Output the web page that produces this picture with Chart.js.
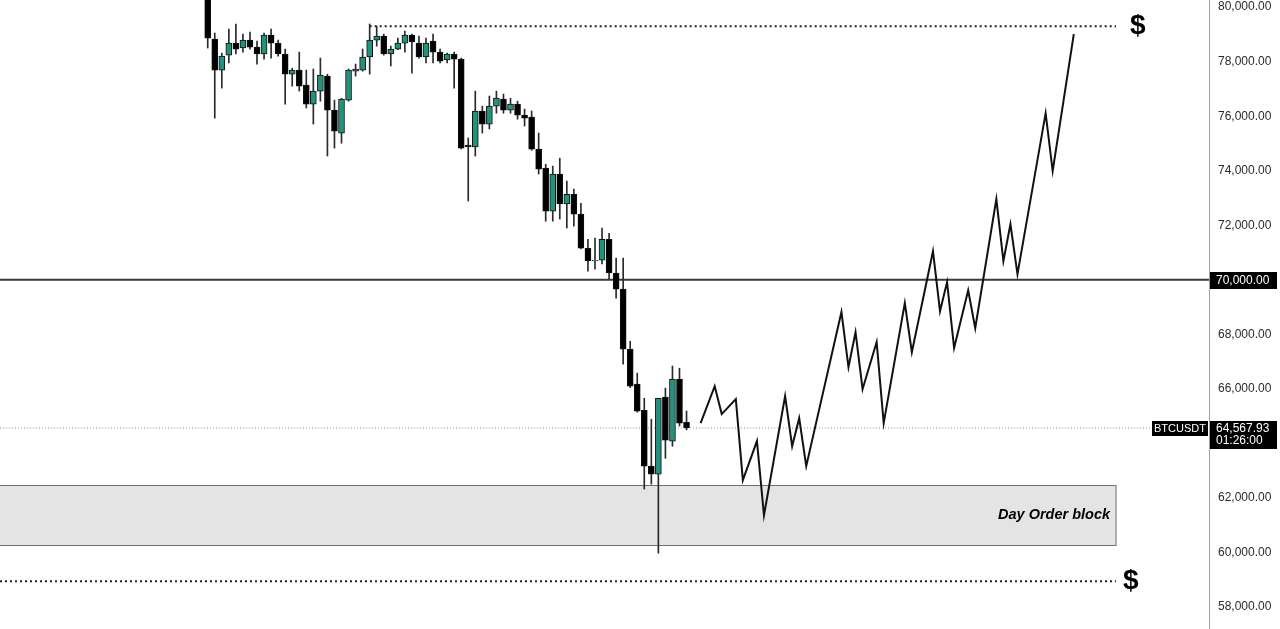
<!DOCTYPE html>
<html>
<head>
<meta charset="utf-8">
<script src="https://cdn.jsdelivr.net/npm/chart.js@4/dist/chart.umd.min.js"></script>
<style>
    html, body { margin: 0; padding: 0; background: #fff; }
    #wrap { width: 1280px; height: 629px; position: relative; }
</style>
</head>
<body>
<div id="wrap"><canvas id="btcChart"></canvas></div>
<script>
// daily candles, BTCUSDT
const opens  = [80800, 78830, 77690, 78240, 78680, 78500, 78790, 78530, 78280, 78970, 78680, 78280, 77540, 77690, 77140, 76440, 76920, 77470, 76220, 75380, 76590, 77650, 77690, 78170, 78790, 78940, 78280, 78460, 78680, 78970, 78680, 78170, 78750, 78350, 78060, 78280, 78090, 74940, 74870, 76190, 75710, 76370, 76630, 76220, 76440, 76040, 75970, 74790, 74100, 72520, 73880, 72780, 73140, 72410, 71160, 70690, 70720, 71490, 70250, 69660, 67460, 66180, 65220, 63170, 62880, 65700, 64090, 66360, 64780];
const highs  = [81000, 79050, 78310, 79190, 79380, 79010, 79080, 78750, 79050, 79190, 78790, 78460, 77760, 78350, 77690, 77730, 78130, 77540, 76590, 76660, 77730, 77910, 78460, 79380, 79300, 79010, 78570, 78860, 79120, 79010, 78940, 78860, 79010, 78460, 78310, 78350, 78130, 75200, 76920, 76370, 76740, 76920, 76810, 76660, 76550, 76260, 76190, 75380, 74240, 74170, 74460, 73620, 73330, 72810, 71490, 71530, 71900, 71710, 70800, 70800, 67750, 66580, 65660, 64890, 65660, 66030, 66840, 66760, 65190];
const lows   = [78500, 75930, 77030, 77950, 78280, 78350, 78460, 77910, 78090, 78130, 78200, 76440, 77100, 76920, 76300, 75710, 76550, 74540, 74830, 75010, 76550, 77470, 77650, 77540, 78570, 78240, 77840, 78440, 78350, 77580, 78130, 77950, 77950, 77950, 77950, 77030, 74800, 72890, 74540, 75380, 75530, 76110, 76110, 76110, 75890, 75640, 74750, 73880, 72150, 72150, 72230, 71900, 71970, 71130, 70320, 70390, 70580, 70030, 69330, 66910, 66050, 65150, 62330, 62510, 59980, 63460, 63900, 64640, 64500];
const closes = [78860, 77690, 78200, 78680, 78460, 78790, 78530, 78280, 78970, 78680, 78280, 77540, 77690, 77100, 76440, 76920, 77510, 76220, 75450, 76630, 77690, 77730, 78170, 78790, 78940, 78280, 78460, 78680, 78970, 78720, 78170, 78680, 78350, 78020, 78280, 78090, 74830, 74870, 76190, 75710, 76370, 76660, 76220, 76440, 76040, 75930, 74790, 74060, 72520, 73880, 72780, 73140, 72410, 71160, 70690, 70720, 71490, 70250, 69660, 67460, 66100, 65190, 63170, 62880, 65660, 64120, 66360, 64750, 64567.93];

// projected path (candle index, price)
const projX = [70, 72, 73, 75, 76, 78, 79, 82, 83, 84, 85, 90, 91, 92, 93, 95, 96, 99, 100, 103, 104, 105, 106, 108, 109, 112, 113, 114, 115, 119, 120, 123];
const projY = [64750, 66100, 65080, 65630, 62660, 64090, 61370, 65740, 63900, 64930, 63170, 68820, 66800, 68080, 65990, 67720, 64750, 69150, 67350, 71050, 68850, 69920, 67500, 69620, 68230, 72960, 70690, 72040, 70210, 76110, 73990, 79010];

const yTicks = [58000, 60000, 62000, 64000, 66000, 68000, 70000, 72000, 74000, 76000, 78000, 80000];

const keyLevel = 70000;
const lastPrice = 64567.93;
const countdown = '01:26:00';
const symbol = 'BTCUSDT';
const topLiquidity = 79300;
const bottomLiquidity = 58950;
const orderBlock = [60270, 62470];
const orderBlockLabel = 'Day Order block';

const xMin = -29.5, xMax = 142.2;
const topLiqStart = 23, zoneEnd = 129, priceLineEnd = 133.8;

const GREEN = '#23917c';
const fmt = (v) => v.toLocaleString('en-US', { minimumFractionDigits: 2, maximumFractionDigits: 2 });

const bodies = opens.map((o, i) => ({ x: i, y: [o, closes[i]] }));
const wicks = opens.map((o, i) => ({ x: i, y: [lows[i], highs[i]] }));
const bodyColors = opens.map((o, i) => closes[i] > o ? GREEN : '#000');
const projection = projX.map((x, i) => ({ x, y: projY[i] }));

const levelLine = (y, x0, x1) => [{ x: x0, y }, { x: x1, y }];

const overlay = {
    id: 'overlay',
    beforeDatasetsDraw(chart) {
        const { ctx, scales: { x, y } } = chart;
        const left = x.getPixelForValue(xMin);
        const right = x.getPixelForValue(zoneEnd);
        const top = y.getPixelForValue(orderBlock[1]);
        const bottom = y.getPixelForValue(orderBlock[0]);
        ctx.save();
        ctx.fillStyle = '#e4e4e4';
        ctx.fillRect(left, top, right - left, bottom - top);
        ctx.strokeStyle = '#707070';
        ctx.lineWidth = 1;
        ctx.strokeRect(left - 1, Math.round(top) + 0.5, right - left + 1, Math.round(bottom - top));
        ctx.restore();
    },
    afterDatasetsDraw(chart) {
        const { ctx, scales: { x, y } } = chart;
        ctx.save();
        ctx.fillStyle = '#000';
        ctx.font = 'italic bold 14.5px "Liberation Sans", Arial, sans-serif';
        ctx.textAlign = 'right';
        ctx.textBaseline = 'middle';
        ctx.fillText(orderBlockLabel, x.getPixelForValue(zoneEnd) - 6, y.getPixelForValue((orderBlock[0] + orderBlock[1]) / 2));

        ctx.font = 'bold 28px "Liberation Sans", Arial, sans-serif';
        ctx.textAlign = 'center';
        ctx.fillText('$', x.getPixelForValue(132.1), y.getPixelForValue(topLiquidity));
        ctx.fillText('$', x.getPixelForValue(131.1), y.getPixelForValue(bottomLiquidity));
        ctx.restore();
    },
    afterDraw(chart) {
        const { ctx, scales: { y } } = chart;
        const axisLeft = y.left;
        ctx.save();
        ctx.font = '12px "Liberation Sans", Arial, sans-serif';
        ctx.textBaseline = 'middle';

        // key level tag
        const ky = Math.round(y.getPixelForValue(keyLevel));
        ctx.fillStyle = '#000';
        ctx.fillRect(axisLeft + 1, ky - 8, 67, 17);
        ctx.fillStyle = '#fff';
        ctx.textAlign = 'left';
        ctx.fillText(fmt(keyLevel), axisLeft + 7, ky + 1);

        // last price tag
        const py = Math.round(y.getPixelForValue(lastPrice));
        ctx.fillStyle = '#000';
        ctx.fillRect(axisLeft + 1, py - 7, 67, 28);
        ctx.fillStyle = '#fff';
        ctx.fillText(fmt(lastPrice), axisLeft + 7, py + 1);
        ctx.fillText(countdown, axisLeft + 7, py + 13);

        // symbol tag
        ctx.fillStyle = '#000';
        ctx.fillRect(axisLeft - 57, py - 7, 56, 15);
        ctx.fillStyle = '#fff';
        ctx.font = '11px "Liberation Sans", Arial, sans-serif';
        ctx.textAlign = 'center';
        ctx.fillText(symbol, axisLeft - 29, py + 1);
        ctx.restore();
    }
};

new Chart(document.getElementById('btcChart').getContext('2d'), {
    type: 'bar',
    data: {
        datasets: [
            {
                type: 'line',
                label: 'Projection',
                data: projection,
                borderColor: '#111',
                borderWidth: 2,
                pointRadius: 0,
                tension: 0,
                order: 0,
            },
            {
                label: 'Body',
                data: bodies,
                backgroundColor: bodyColors,
                borderColor: '#111',
                borderWidth: 1,
                borderSkipped: false,
                barThickness: 6,
                grouped: false,
                order: 1,
            },
            {
                label: 'Wick',
                data: wicks,
                backgroundColor: '#2a2a2a',
                barThickness: 1,
                grouped: false,
                order: 2,
            },
            {
                type: 'line',
                data: levelLine(keyLevel, xMin, xMax),
                borderColor: '#3a3a3a',
                borderWidth: 2,
                pointRadius: 0,
                order: 3,
            },
            {
                type: 'line',
                data: levelLine(topLiquidity, topLiqStart, zoneEnd),
                borderColor: '#222',
                borderWidth: 2,
                borderDash: [2, 3],
                pointRadius: 0,
                order: 3,
            },
            {
                type: 'line',
                data: levelLine(bottomLiquidity, xMin, zoneEnd),
                borderColor: '#222',
                borderWidth: 2,
                borderDash: [2, 3],
                pointRadius: 0,
                order: 3,
            },
            {
                type: 'line',
                data: levelLine(lastPrice, xMin, priceLineEnd),
                borderColor: '#9a9a9a',
                borderWidth: 1,
                borderDash: [1, 2],
                pointRadius: 0,
                order: 4,
            },
        ],
    },
    options: {
        responsive: true,
        maintainAspectRatio: false,
        animation: false,
        layout: { padding: 0 },
        plugins: {
            legend: { display: false },
            tooltip: { enabled: false },
        },
        scales: {
            x: {
                type: 'linear',
                display: false,
                min: xMin,
                max: xMax,
                offset: false,
            },
            y: {
                type: 'linear',
                position: 'right',
                min: 57200,
                max: 80260,
                afterBuildTicks: (scale) => {
                    scale.ticks = yTicks.map((v) => ({ value: v }));
                },
                afterFit: (scale) => {
                    scale.width = 71;
                    scale.paddingTop = 0;
                    scale.paddingBottom = 0;
                },
                grid: { display: false, drawTicks: false },
                border: { display: true, color: '#a0a0a0', width: 1 },
                ticks: {
                    padding: 9,
                    color: '#2b2b2b',
                    font: { family: '"Liberation Sans", Arial, sans-serif', size: 12 },
                    callback: (v) => fmt(v),
                },
            },
        },
    },
    plugins: [overlay],
});
</script>
</body>
</html>
